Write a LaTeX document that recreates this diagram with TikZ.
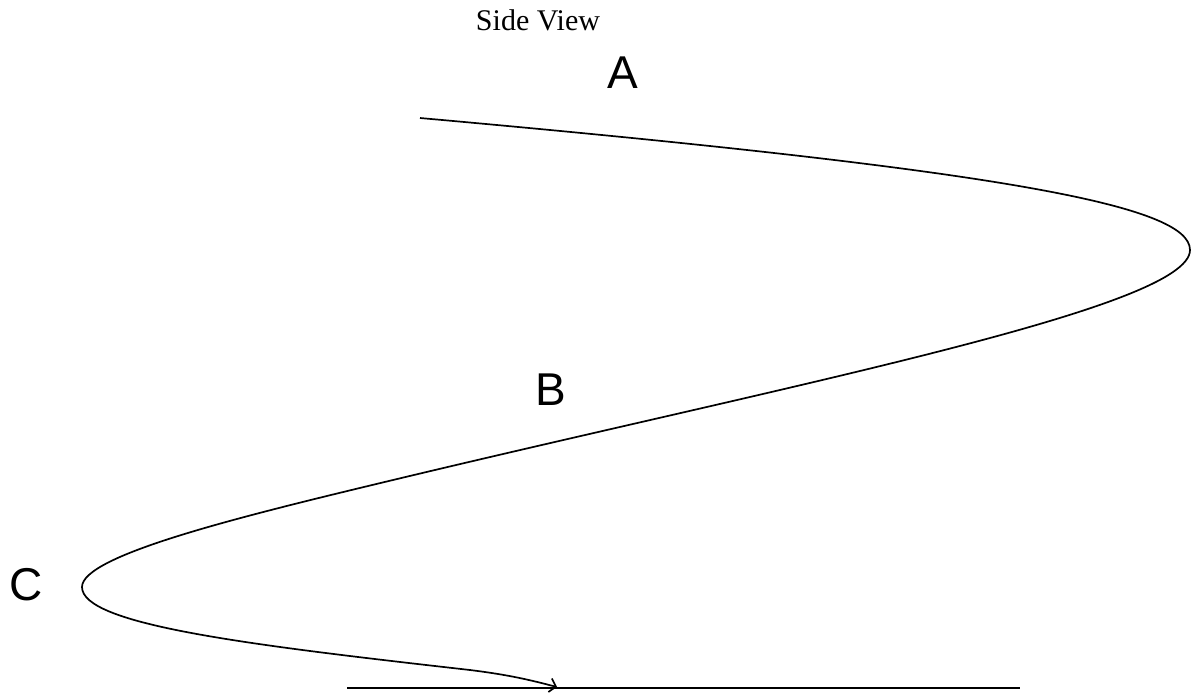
\documentclass[tikz,border=0pt]{standalone}
\usepackage{fontspec}
\setmainfont{Liberation Serif}
\newfontfamily\labelfont{Liberation Sans}
\usetikzlibrary{arrows.meta}
\begin{document}
\begin{tikzpicture}[x=1pt,y=-1pt,
  title/.style={font=\fontsize{30}{36}\selectfont, anchor=base, inner sep=0pt},
  letter/.style={font=\labelfont\fontsize{46}{52}\selectfont, anchor=base, inner sep=0pt},
  path/.style={line width=1.7pt, -{Straight Barb[length=6pt,width=14pt]}},
  ground/.style={line width=2.8pt}]
\useasboundingbox (0,0) rectangle (1192,694);
\node[title] (title) at (538,30) {Side View};
\node[letter] (A) at (623,88) {A};
\node[letter] (B) at (551,405) {B};
\node[letter] (C) at (26,600) {C};
\coordinate (start) at (420,118);
\coordinate (right) at (1190,250);
\coordinate (l1) at (393,480);
\coordinate (left) at (82,587);
\coordinate (l2) at (470,670);
\coordinate (tip) at (557,687);
\coordinate (g1) at (347,688);
\coordinate (g2) at (1020,688);
\draw[ground] (g1) -- (g2);
\draw[path] (start) .. controls (1000,170) and (1190,205) .. (right)
  .. controls (1190,308) and (793,384) .. (l1)
  .. controls (243,516) and (82,555) .. (left)
  .. controls (82,625) and (250,645) .. (l2)
  .. controls (510,675) and (530,680) .. (tip);
\end{tikzpicture}
\end{document}
